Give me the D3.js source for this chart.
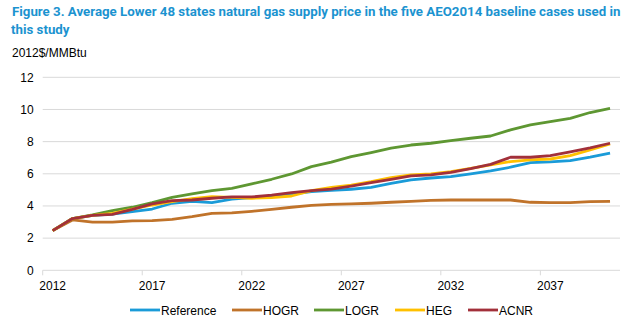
<!DOCTYPE html>
<html><head><meta charset="utf-8">
<script src="https://cdn.jsdelivr.net/npm/d3@7"></script>
<style>body{margin:0;background:#fff}svg{display:block}</style>
</head><body>
<svg id="c" width="632" height="331"></svg>
<script>
const years = d3.range(2012, 2041);
const tickYears = [2012, 2017, 2022, 2027, 2032, 2037];
const yTicks = [0, 2, 4, 6, 8, 10, 12];
const seriesNames = ["Reference", "HOGR", "LOGR", "HEG", "ACNR"];
const seriesColors = ["#1a9bd8", "#c0732a", "#5e9732", "#ffc000", "#a2303a"];
const reference = [2.47,3.22,3.42,3.50,3.65,3.81,4.17,4.29,4.21,4.42,4.52,4.58,4.73,4.89,4.97,5.04,5.16,5.41,5.62,5.74,5.82,5.99,6.18,6.41,6.70,6.74,6.82,7.03,7.28];
const hogr = [2.47,3.13,3.00,2.99,3.07,3.09,3.17,3.34,3.54,3.57,3.67,3.79,3.92,4.04,4.10,4.13,4.17,4.23,4.29,4.35,4.37,4.37,4.37,4.37,4.23,4.21,4.21,4.27,4.29];
const logr = [2.47,3.22,3.44,3.71,3.92,4.21,4.54,4.75,4.95,5.10,5.37,5.66,5.99,6.45,6.73,7.07,7.32,7.59,7.79,7.90,8.06,8.21,8.35,8.73,9.04,9.25,9.45,9.81,10.07];
const heg = [2.47,3.22,3.42,3.54,3.81,4.06,4.27,4.46,4.58,4.54,4.48,4.52,4.62,4.95,5.15,5.29,5.51,5.76,5.93,5.99,6.14,6.34,6.55,6.76,6.86,6.92,7.13,7.48,7.86];
const acnr = [2.47,3.22,3.42,3.48,3.79,4.13,4.33,4.37,4.48,4.56,4.56,4.68,4.83,4.95,5.05,5.24,5.45,5.66,5.87,5.93,6.09,6.32,6.59,7.03,7.03,7.13,7.36,7.61,7.90];
const seriesValues = [reference, hogr, logr, heg, acnr];
const titleLines = [
  "Figure 3.  Average Lower 48 states natural gas supply price in the five AEO2014  baseline cases used in",
  "this study"
];

const svg = d3.select("#c");
const font = "Liberation Sans, Arial, sans-serif";
const L = 42.7, R = 620, T = 77.3, B = 270.3;

// Title: font size chosen so the first line's natural width fills its slot
const titleColor = "#1b93d0";
const tt = svg.append("g").selectAll("text").data(titleLines).join("text")
  .attr("x", (d, i) => i ? 11 : 12).attr("y", (d, i) => i ? 34 : 16)
  .attr("font-family", "Roboto, sans-serif").attr("font-weight", "bold")
  .attr("font-size", 13.5).attr("fill", titleColor)
  .text(d => d);
const w0 = tt.nodes()[0].getComputedTextLength();
tt.attr("font-size", Math.min(13.5, 13.5 * 609 / w0));

svg.append("text").attr("x", 12).attr("y", 57)
  .attr("font-family", font).attr("font-size", 12).attr("fill", "#000")
  .text("2012$/MMBtu");

const x = d3.scaleBand().domain(years).range([L, R]);
const y = d3.scaleLinear().domain([0, 12]).range([B, T]);

// gridlines
svg.append("g").selectAll("line").data(yTicks.filter(d => d > 0)).join("line")
  .attr("x1", L).attr("x2", R).attr("y1", d => y(d)).attr("y2", d => y(d))
  .attr("stroke", "#d9d9d9").attr("stroke-width", 1);

// y labels
const yAxis = d3.axisLeft(y).tickValues(yTicks).tickSize(0).tickPadding(9);
const gy = svg.append("g").attr("transform", `translate(${L},0)`).call(yAxis);
gy.select(".domain").remove();
gy.selectAll("text").attr("font-family", font).attr("font-size", 12).attr("fill", "#000");

// x axis
const gx = svg.append("g").attr("transform", `translate(0,${B})`);
gx.append("line").attr("x1", L).attr("x2", R).attr("stroke", "#d9d9d9");
gx.selectAll(".tk").data(tickYears).join("line").attr("class", "tk")
  .attr("x1", d => x(d)).attr("x2", d => x(d)).attr("y1", 0).attr("y2", 5)
  .attr("stroke", "#d9d9d9");
gx.selectAll("text").data(tickYears).join("text")
  .attr("x", d => x(d) + x.bandwidth() / 2).attr("y", 20)
  .attr("text-anchor", "middle").attr("font-family", font).attr("font-size", 12)
  .attr("fill", "#000").text(d => d);

// lines
const line = d3.line().x((d, i) => x(years[i]) + x.bandwidth() / 2).y(d => y(d));
svg.append("g").selectAll("path").data(seriesValues).join("path")
  .attr("d", d => line(d)).attr("fill", "none")
  .attr("stroke", (d, i) => seriesColors[i]).attr("stroke-width", 2.8)
  .attr("stroke-linejoin", "round");

// legend
const legX = [130, 232, 314, 395, 468];
const lg = svg.append("g").selectAll("g").data(seriesNames).join("g")
  .attr("transform", (d, i) => `translate(${legX[i]},310)`);
lg.append("line").attr("x1", 0).attr("x2", 30).attr("stroke", (d, i) => seriesColors[i]).attr("stroke-width", 2.8);
lg.append("text").attr("x", 31).attr("y", 4.5).attr("font-family", font).attr("font-size", 12)
  .attr("fill", "#000").text(d => d);
</script>
</body></html>
